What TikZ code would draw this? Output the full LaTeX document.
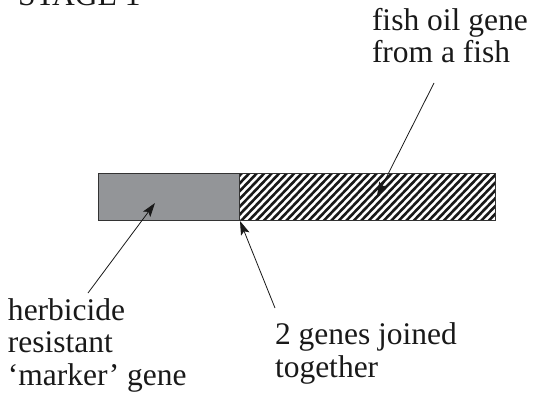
\documentclass[tikz,border=0pt]{standalone}
\usepackage{fontspec}
\setmainfont{Liberation Serif}
\usetikzlibrary{arrows.meta}
\begin{document}
\begin{tikzpicture}[x=1pt,y=-1pt,
  lbl/.style={inner sep=0pt,outer sep=0pt,align=left,font=\fontsize{31.5}{32.5}\selectfont,text=black!90},
  pointer/.style={-{Stealth[length=14pt,width=9pt,inset=3pt]},line width=0.8pt,black!90},
  barbox/.style={draw=black!80,line width=1.1pt}]
\useasboundingbox (0,0) rectangle (534,398);
% gene bar
\fill[fill={rgb,255:red,147;green,149;blue,152}] (98,173) rectangle (239,220);
\begin{scope}
  \clip (239,173) rectangle (495,220);
  \foreach \k in {180,187.5,...,500}{
    \draw[line width=2.6pt,black!90] (\k,222) -- (\k+49,171);
  }
\end{scope}
\node[barbox,minimum width=141pt,minimum height=47pt,inner sep=0pt,anchor=north west] (marker) at (98,173) {};
\node[barbox,minimum width=256pt,minimum height=47pt,inner sep=0pt,anchor=north west] (fishgene) at (239,173) {};
\coordinate (join) at (240,221);
\coordinate (markertip) at (155,203);
\coordinate (fishtip) at (377,196);
% labels (base anchor = last line's baseline)
\node[lbl,anchor=base west] (stage) at (18,6) {STAGE 1};
\node[lbl,anchor=base west] (fishlbl) at (372,63) {fish oil gene\\from a fish};
\node[lbl,anchor=base west] (herb) at (8,385) {herbicide\\resistant\\‘marker’ gene};
\node[lbl,anchor=base west] (joined) at (275,377) {2 genes joined\\together};
\coordinate (fishstart) at (434,83);
\coordinate (herbstart) at (88,293);
\coordinate (joinstart) at (275,308);
% pointers
\draw[pointer] (fishstart) -- (fishtip);
\draw[pointer] (herbstart) -- (markertip);
\draw[pointer] (joinstart) -- (join);
\end{tikzpicture}
\end{document}
